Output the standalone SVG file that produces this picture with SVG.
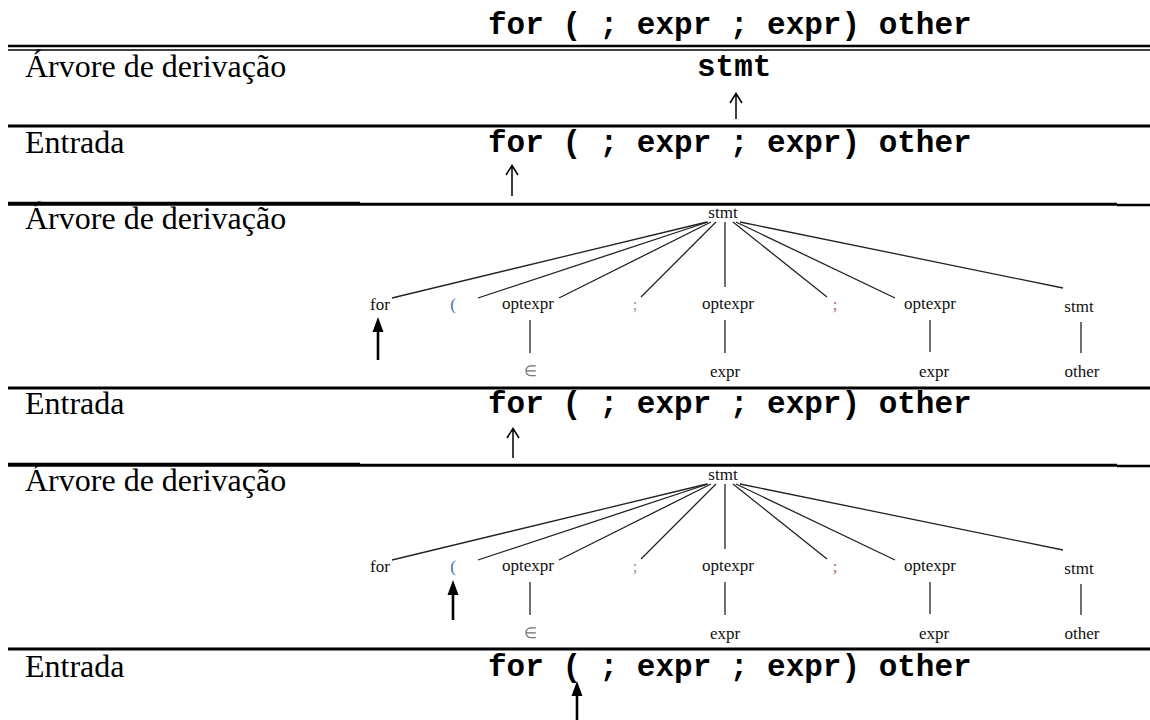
<svg xmlns="http://www.w3.org/2000/svg" width="1150" height="720" viewBox="0 0 1150 720">
<style>
.mono{font-family:"Liberation Mono","Courier New",monospace;font-weight:bold;font-size:31px;fill:#000}
.lab{font-family:"Liberation Serif","Times New Roman",serif;font-size:32px;fill:#000}
.t{font-family:"Liberation Serif","Times New Roman",serif;font-size:17px;fill:#111;text-anchor:middle}
.rule{stroke:#000;fill:none}
.edge{stroke:#222;stroke-width:1.3;fill:none}
.thin{stroke:#000;stroke-width:1.5;fill:none}
.bold{stroke:#000;stroke-width:2.6;fill:none}
.head{fill:#000;stroke:none}
</style>
<defs>
<path id="solidhead" class="head" d="M0 0 L5.5 15 L-5.5 15 Z"/>
</defs>

<!-- table rules -->
<g id="rules">
<line class="rule" x1="8" y1="46" x2="1150" y2="46" stroke-width="2.4"/>
<line class="rule" x1="8" y1="50" x2="1150" y2="50" stroke-width="1.5"/>
<line class="rule" x1="8" y1="126" x2="1150" y2="126" stroke-width="3"/>
<line class="rule" x1="8" y1="203.7" x2="360" y2="203.7" stroke-width="4"/>
<line class="rule" x1="360" y1="204.3" x2="1117" y2="204.3" stroke-width="3"/>
<line class="rule" x1="1117" y1="205" x2="1150" y2="205" stroke-width="2.3"/>
<line class="rule" x1="8" y1="388" x2="1150" y2="388" stroke-width="3"/>
<line class="rule" x1="8" y1="464.7" x2="360" y2="464.7" stroke-width="4"/>
<line class="rule" x1="360" y1="465.3" x2="1117" y2="465.3" stroke-width="3"/>
<line class="rule" x1="1117" y1="466" x2="1150" y2="466" stroke-width="2.3"/>
<line class="rule" x1="8" y1="649" x2="1150" y2="649" stroke-width="3"/>
</g>

<!-- row labels and input strings -->
<g id="title"><text class="mono" x="488" y="34">for ( ; expr ; expr) other</text></g>
<g id="row1-label"><text class="lab" x="25" y="77">Árvore de derivação</text></g>
<g id="row1-stmt"><text class="mono" x="697" y="76">stmt</text></g>
<g id="row2-label"><text class="lab" x="25" y="153">Entrada</text></g>
<g id="row2-input"><text class="mono" x="488" y="152">for ( ; expr ; expr) other</text></g>
<g id="row3-label"><text class="lab" x="25" y="229">Árvore de derivação</text></g>
<g id="row4-label"><text class="lab" x="25" y="414">Entrada</text></g>
<g id="row4-input"><text class="mono" x="488" y="413">for ( ; expr ; expr) other</text></g>
<g id="row5-label"><text class="lab" x="25" y="491">Árvore de derivação</text></g>
<g id="row6-label"><text class="lab" x="25" y="677">Entrada</text></g>
<g id="row6-input"><text class="mono" x="488" y="676">for ( ; expr ; expr) other</text></g>

<!-- tree 1 -->
<g id="tree1">
<g id="t1-root"><text class="t" x="723" y="218">stmt</text></g>
<g id="t1-for"><text class="t" x="380" y="310">for</text></g>
<g id="t1-lp"><text class="t" x="453" y="310" style="fill:#3a6ea5">(</text></g>
<g id="t1-opt1"><text class="t" x="528" y="309">optexpr</text></g>
<g id="t1-semi1"><text class="t" x="635" y="310" style="fill:#9a9a80">;</text></g>
<g id="t1-opt2"><text class="t" x="728" y="309">optexpr</text></g>
<g id="t1-semi2"><text class="t" x="835" y="310" style="fill:#a86a5a">;</text></g>
<g id="t1-opt3"><text class="t" x="930" y="309">optexpr</text></g>
<g id="t1-stmt"><text class="t" x="1079" y="312">stmt</text></g>
<g id="t1-eps"><text class="t" x="530" y="376" style="fill:#777;font-size:15px">∈</text></g>
<g id="t1-expr1"><text class="t" x="725" y="377">expr</text></g>
<g id="t1-expr2"><text class="t" x="934" y="377">expr</text></g>
<g id="t1-other"><text class="t" x="1082" y="377">other</text></g>
</g>

<!-- tree 2 -->
<g id="tree2">
<g id="t2-root"><text class="t" x="723" y="480">stmt</text></g>
<g id="t2-for"><text class="t" x="380" y="572">for</text></g>
<g id="t2-lp"><text class="t" x="453" y="572" style="fill:#3a6ea5">(</text></g>
<g id="t2-opt1"><text class="t" x="528" y="571">optexpr</text></g>
<g id="t2-semi1"><text class="t" x="635" y="572" style="fill:#9a9a80">;</text></g>
<g id="t2-opt2"><text class="t" x="728" y="571">optexpr</text></g>
<g id="t2-semi2"><text class="t" x="835" y="572" style="fill:#a86a5a">;</text></g>
<g id="t2-opt3"><text class="t" x="930" y="571">optexpr</text></g>
<g id="t2-stmt"><text class="t" x="1079" y="574">stmt</text></g>
<g id="t2-eps"><text class="t" x="530" y="638" style="fill:#777;font-size:15px">∈</text></g>
<g id="t2-expr1"><text class="t" x="725" y="639">expr</text></g>
<g id="t2-expr2"><text class="t" x="934" y="639">expr</text></g>
<g id="t2-other"><text class="t" x="1082" y="639">other</text></g>
</g>

<!-- connectors -->
<g id="connectors">
<g id="t1-edges">
<line class="edge" x1="707" y1="222" x2="392" y2="298"/>
<line class="edge" x1="708" y1="222" x2="478" y2="298"/>
<line class="edge" x1="711" y1="222" x2="559" y2="298"/>
<line class="edge" x1="716" y1="222" x2="641" y2="297"/>
<line class="edge" x1="725" y1="222" x2="725" y2="287"/>
<line class="edge" x1="733" y1="222" x2="827" y2="297"/>
<line class="edge" x1="736" y1="222" x2="895" y2="298"/>
<line class="edge" x1="740" y1="222" x2="1063" y2="288"/>
<line class="edge" x1="530" y1="320" x2="530" y2="353"/>
<line class="edge" x1="725" y1="320" x2="725" y2="353"/>
<line class="edge" x1="930" y1="320" x2="930" y2="352"/>
<line class="edge" x1="1081" y1="322" x2="1081" y2="353"/>
</g>
<g id="t2-edges">
<line class="edge" x1="707" y1="484" x2="392" y2="560"/>
<line class="edge" x1="708" y1="484" x2="478" y2="560"/>
<line class="edge" x1="711" y1="484" x2="559" y2="560"/>
<line class="edge" x1="716" y1="484" x2="641" y2="559"/>
<line class="edge" x1="725" y1="484" x2="725" y2="549"/>
<line class="edge" x1="733" y1="484" x2="827" y2="559"/>
<line class="edge" x1="736" y1="484" x2="895" y2="560"/>
<line class="edge" x1="740" y1="484" x2="1063" y2="550"/>
<line class="edge" x1="530" y1="582" x2="530" y2="615"/>
<line class="edge" x1="725" y1="582" x2="725" y2="615"/>
<line class="edge" x1="930" y1="582" x2="930" y2="614"/>
<line class="edge" x1="1081" y1="584" x2="1081" y2="615"/>
</g>
<g id="pointers">
<path class="thin" d="M736 119 V94 M730 103 L736 93.5 L742 103"/>
<path class="thin" d="M512 196 V166 M506 175 L512 165.5 L518 175"/>
<path class="thin" d="M513 458 V429 M507 438 L513 428.5 L519 438"/>
<line class="bold" x1="378" y1="360" x2="378" y2="330"/>
<use href="#solidhead" x="378" y="317"/>
<line class="bold" x1="453" y1="620" x2="453" y2="592"/>
<use href="#solidhead" x="453" y="580"/>
<line class="bold" x1="577" y1="722" x2="577" y2="694"/>
<use href="#solidhead" x="577" y="681"/>
</g>
</g>
</svg>
